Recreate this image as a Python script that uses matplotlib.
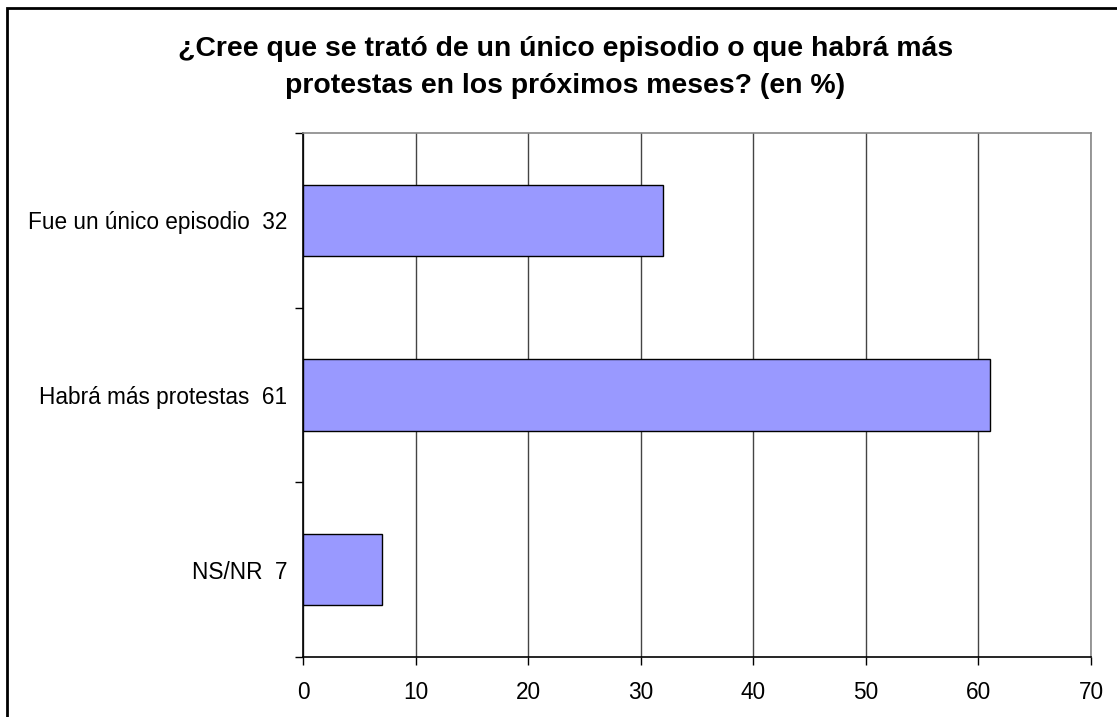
import matplotlib.pyplot as plt
from matplotlib.patches import Rectangle

plt.rcParams['font.family'] = ['Liberation Sans', 'DejaVu Sans']

categories = ['Fue un único episodio', 'Habrá más protestas', 'NS/NR']
values = [32, 61, 7]
xticks = [0, 10, 20, 30, 40, 50, 60, 70]
title = '¿Cree que se trató de un único episodio o que habrá más\nprotestas en los próximos meses? (en %)'

fig = plt.figure(figsize=(11.17, 7.17), dpi=100)
ax = fig.add_axes([0.2713, 0.0837, 0.9767 - 0.2713, 0.8145 - 0.0837])

pos = list(range(len(categories)))
ax.barh(pos, values, height=0.41, color='#9999ff', edgecolor='black', linewidth=1, zorder=3)

ax.set_xlim(0, 70)
ax.set_ylim(len(categories) - 0.5, -0.5)
ax.set_xticks(xticks)
ax.set_xticklabels([str(t) for t in xticks], fontsize=16.3)
ax.tick_params(axis='x', length=6, width=1, color='black', pad=11)

# category labels with values, ticks at the boundaries
ax.set_yticks([p - 0.5 for p in pos] + [len(pos) - 0.5])
ax.set_yticklabels([])
ax.tick_params(axis='y', which='major', length=6, width=1, color='black')
ax.set_yticks(pos, minor=True)
ax.set_yticklabels([f'{c}  {v}' for c, v in zip(categories, values)], minor=True, fontsize=16.3)
ax.tick_params(axis='y', which='minor', length=0, pad=11.5)

ax.grid(axis='x', color='#444444', linewidth=1, zorder=0)
ax.spines['left'].set_color('black')
ax.spines['bottom'].set_color('black')
ax.spines['top'].set_color('#888888')
ax.spines['right'].set_color('#888888')
for s in ax.spines.values():
    s.set_linewidth(1.2)

fig.text(0.506, 0.906, title, ha='center', va='center', fontsize=20.4, fontweight='bold', linespacing=1.55)

# outer frame of the chart
fig.patches.append(Rectangle((7 / 1117, -0.1), 1.2, 1 - 8 / 717 + 0.1, transform=fig.transFigure,
                             fill=False, edgecolor='black', linewidth=2))

plt.savefig('out.png', dpi=100)
